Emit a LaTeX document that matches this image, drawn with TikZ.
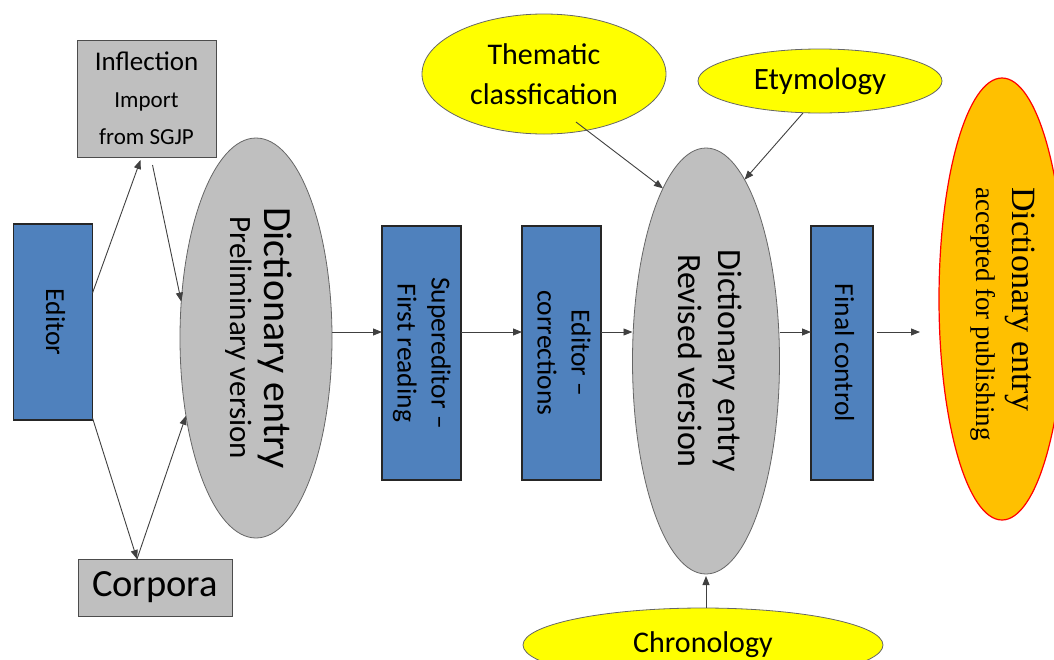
\documentclass[tikz,border=0pt]{standalone}
\usepackage{fontspec}
\setmainfont{Carlito}
\newfontfamily\timesfont{Liberation Serif}
\usepackage{graphicx}
\usetikzlibrary{arrows.meta,positioning,shapes.geometric}

\definecolor{boxblue}{HTML}{4F81BD}
\definecolor{boxgray}{HTML}{BFBFBF}
\definecolor{noteyellow}{HTML}{FFFF00}
\definecolor{pubgold}{HTML}{FFC000}

% 竖排文字
\newcommand{\vlabel}[3][c]{\rotatebox{-90}{#2\begin{tabular}{@{}#1@{}}#3\end{tabular}}}

\begin{document}
\begin{tikzpicture}[
        x=1pt,y=-1pt,
        every node/.style={inner sep=0pt,outer sep=0pt},
        >={Triangle[length=9pt,width=7pt]}, % 箭头样式
        bluebox/.style={draw=black!85,line width=1.3pt,fill=boxblue,minimum width=79pt,minimum height=254pt,font=\fontsize{27.5}{34}\selectfont},
        graybox/.style={draw=black!70,line width=1pt,fill=boxgray},
        grayell/.style={ellipse,draw=black!60,line width=0.8pt,fill=boxgray},
        yellell/.style={ellipse,draw=black!60,line width=0.8pt,fill=noteyellow},
        arrowline/.style={->,draw=black!75,line width=0.9pt}
    ]
        \useasboundingbox (0,0) rectangle (1054,659);
        \clip (0,0) rectangle (1054,659);

        % 定义节点
        \node (editor) [bluebox,minimum height=196pt] at (53,322) {\vlabel{}{Editor}};
        \node (infl) [graybox,minimum width=139pt,minimum height=117pt,align=center,font=\fontsize{23}{37}\selectfont] at (146.5,98.5) {{\fontsize{27}{37}\selectfont Inflection}\\Import\\from SGJP};
        \node (corp) [graybox,minimum width=154pt,minimum height=57pt,font=\fontsize{38.5}{40}\selectfont] at (155,587.5) {Corpora};
        \node (prelim) [grayell,minimum width=152pt,minimum height=400pt] at (256,338) {\vlabel{\fontsize{31}{34}\selectfont}{{\fontsize{40}{34}\selectfont Dictionary entry}\\Preliminary version}};
        \node (sup) [bluebox] at (421.5,353) {\vlabel{}{Supereditor –\\First reading}};
        \node (corr) [bluebox,right=61pt of sup] {\vlabel{}{Editor –\\corrections}};
        \node (rev) [grayell,minimum width=147pt,minimum height=426pt] at (706,361) {\vlabel{\fontsize{34}{40}\selectfont}{Dictionary entry\\Revised version}};
        \node (fin) [bluebox,minimum width=62pt] at (842,353) {\vlabel{}{Final control}};
        \node (pub) [ellipse,draw=red,line width=1.2pt,fill=pubgold,minimum width=126pt,minimum height=442pt] at (1002,299) {\vlabel[l]{\timesfont\fontsize{27}{36}\selectfont\hspace*{30pt}}{{\fontsize{34}{36}\selectfont Dictionary entry}\\accepted for publishing}};
        \node (them) [yellell,minimum width=244pt,minimum height=120pt,align=center,font=\fontsize{30}{40}\selectfont] at (544,74) {Thematic\\classfication};
        \node (ety) [yellell,minimum width=244pt,minimum height=64pt,font=\fontsize{31}{31}\selectfont] at (820,81) {Etymology};
        \node (chron) [yellell,minimum width=360pt,minimum height=74pt,font=\fontsize{30}{30}\selectfont] at (703,645) {Chronology};
        \coordinate (mainline) at (0,332);
        \coordinate (out) at (920,332);

        % 连接节点
        \draw [arrowline] ([yshift=29pt]editor.east) -- ([xshift=-6pt,yshift=-3pt]infl.south);
        \draw [arrowline] ([xshift=6pt,yshift=-8pt]infl.south) -- (prelim.154);
        \draw [arrowline] ([yshift=2pt]editor.south east) -- ([xshift=-18pt]corp.north);
        \draw [arrowline] ([xshift=-18pt]corp.north) -- (prelim.228);
        \draw [arrowline] (prelim.east |- mainline) -- (sup.west |- mainline);
        \draw [arrowline] (sup.east |- mainline) -- (corr.west |- mainline);
        \draw [arrowline] (corr.east |- mainline) -- (rev.west |- mainline);
        \draw [arrowline] (rev.east |- mainline) -- (fin.west |- mainline);
        \draw [arrowline,shorten <=4pt] (fin.east |- mainline) -- (out);
        \draw [arrowline] ([xshift=32pt,yshift=12pt]them.south) -- (rev.104);
        \draw [arrowline] ([xshift=-17pt]ety.south) -- (rev.78);
        \draw [arrowline,shorten >=2pt] (rev.south |- chron.north) -- (rev.south);

    \end{tikzpicture}
\end{document}
